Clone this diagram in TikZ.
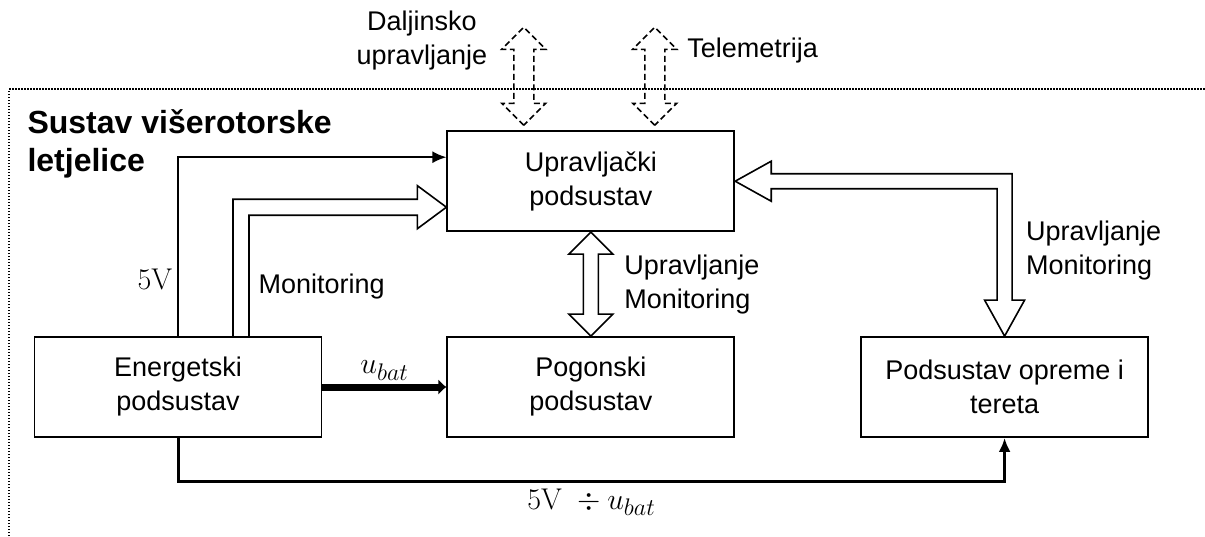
\documentclass[tikz,border=0pt]{standalone}
\usepackage{fix-cm}
\usepackage[no-math]{fontspec}
\setmainfont{Liberation Sans}
\usepackage{amsmath}
\usetikzlibrary{arrows.meta,positioning,calc}
\DeclareMathSizes{30}{30}{24}{18}

\begin{document}
\begin{tikzpicture}[x=1pt,y=1pt,>={Latex[length=14pt,width=12pt]},
      box/.style={draw,line width=1.8pt,minimum width=287pt,minimum height=100pt,
        align=center,font=\fontsize{27}{34}\selectfont},
      txt/.style={align=left,font=\fontsize{27}{34}\selectfont},
      mathlbl/.style={font=\fontsize{30}{36}\selectfont},
      hollow/.style={draw,line width=1.6pt,line join=miter},
      feed/.style={->,line width=2pt},
      frame/.style={line width=1.5pt,dash pattern=on 1.5pt off 1.5pt}]

  \useasboundingbox (0,0) rectangle (1205,-536);
  \draw[frame] (9,-545) |- (1215,-89);

  \node[txt,anchor=north west,font=\fontsize{32}{38}\bfseries] (title) at (24,-106)
    {Sustav višerotorske\\letjelice};

  \node[box] (ener) at (178,-387) {Energetski\\podsustav};
  \node[box] (pogon) [right=124pt of ener] {Pogonski\\podsustav};
  \node[box] (pod) [right=125pt of pogon] {Podsustav opreme i\\tereta};
  \node[box] (upr) [above=104pt of pogon] {Upravljački\\podsustav};

  % daljinsko upravljanje i telemetrija
  \coordinate (dalj) at ($(upr.north)+(-67,54)$);
  \coordinate (tele) at ($(upr.north)+(64,54)$);
  \foreach \c in {dalj,tele}
    \draw[hollow,dash pattern=on 6pt off 3.5pt] (\c) ++(0,-49) -- ++(-22,22)
      -- ++(12,0) -- ++(0,54) -- ++(-12,0) -- ++(22,22) -- ++(22,-22)
      -- ++(-12,0) -- ++(0,-54) -- ++(12,0) -- cycle;
  \node[txt,align=center,anchor=east] (dljlbl) at ($(dalj)+(-33,36)$)
    {Daljinsko\\upravljanje};
  \node[txt,anchor=west] (tellbl) at ($(tele)+(29,26)$) {Telemetrija};

  % napajanje
  \coordinate (upr5v) at ($(upr.west)+(0,24)$);
  \draw[feed] (ener.north) |- (upr5v);
  \node[mathlbl,anchor=east] (v5) at ($(ener.north)+(-2,57)$) {$5\mathrm{V}$};

  % monitoring
  \coordinate (monend) at ($(upr.west)+(0,-26)$);
  \draw[hollow] ($(ener.north)+(55,0)$) |- ($(monend)+(-29,8)$) -- ++(0,13.5)
    -- (monend) -- ++(-29,-21.5) -- ++(0,13.5) -| ($(ener.north)+(71,0)$);
  \node[txt,anchor=west] (monlbl) at ($(ener.north)+(77,50)$) {Monitoring};

  % upravljanje pogona
  \draw[hollow] (upr.south) -- ++(-22,-22) -- ++(14.5,0) -- ++(0,-60)
    -- ++(-14.5,0) -- (pogon.north) -- ++(22,22) -- ++(-14.5,0) -- ++(0,60)
    -- ++(14.5,0) -- cycle;
  \node[txt,anchor=west] (poglbl) at ($(pogon.north)+(30,52)$)
    {Upravljanje\\Monitoring};

  % upravljanje opreme
  \draw[hollow] (upr.east) -- ++(36,20) -- ++(0,-12.5) -| ($(pod.north)+(7.5,36)$)
    -- ++(12.5,0) -- (pod.north) -- ++(-20,36) -- ++(12.5,0)
    |- ($(upr.east)+(36,-7.5)$) -- ++(0,-12.5) -- cycle;
  \node[txt,anchor=west] (podlbl) at ($(pod.north)+(18,86)$)
    {Upravljanje\\Monitoring};

  % baterija
  \draw[->,line width=7pt,>={Latex[length=8pt,width=16pt]}] (ener) -- (pogon)
    node[mathlbl,midway,above=0pt] {$u_{bat}$};
  \draw[feed,line width=3pt] (ener.south) -- ++(0,-44) -| (pod.south)
    node[mathlbl,pos=0.25,below=2pt] {$5\mathrm{V}\;\div u_{bat}$};
\end{tikzpicture}
\end{document}
